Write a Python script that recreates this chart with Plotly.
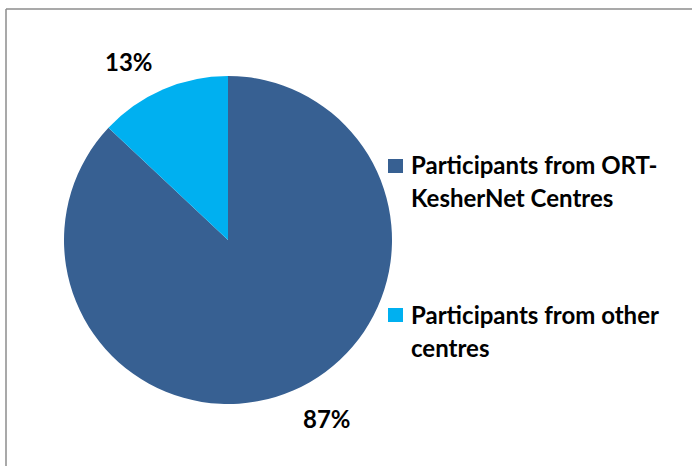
import math
import plotly.graph_objects as go

# ---- data ----
categories = ["Participants from ORT-<br>KesherNet Centres", "Participants from other<br>centres"]
shares = [87, 13]
colors = ["#376092", "#00B0F0"]

W, H = 692, 466
CX, CY, R = 228, 240, 164  # pie centre / radius in pixels (from top-left)
FONT = "Lato"

def px(x):
    return x / W

def py(y):
    return 1 - y / H

fig = go.Figure()
fig.add_trace(go.Pie(
    labels=[c.replace("<br>", " ") for c in categories],
    values=shares,
    marker=dict(colors=colors, line=dict(width=0)),
    sort=False,
    direction="clockwise",
    rotation=0,
    textinfo="none",
    showlegend=False,
    domain=dict(x=[px(CX - R), px(CX + R)], y=[py(CY + R), py(CY - R)]),
))

annotations = []
shapes = []

# percentage labels placed outside each slice ("outside end" style)
total = sum(shares)
start = 0.0
for v in shares:
    frac = v / total
    mid = (start + frac / 2) * 2 * math.pi
    start += frac
    ex = CX + R * math.sin(mid)
    ey = CY - R * math.cos(mid)
    lx = ex + math.copysign(34, math.sin(mid))
    ly = ey - math.copysign(28, math.cos(mid))
    annotations.append(dict(
        x=px(lx), y=py(ly), xref="paper", yref="paper",
        text=f"<b>{round(frac * 100)}%</b>", showarrow=False,
        xanchor="center", yanchor="middle",
        font=dict(family=FONT, size=24, color="#000000"),
    ))

# legend drawn manually
legend_y = [166, 315]
line_gap = 33
for cat, col, ly in zip(categories, colors, legend_y):
    shapes.append(dict(type="rect", xref="paper", yref="paper",
                       x0=px(388), x1=px(403), y0=py(ly - 7), y1=py(ly + 7),
                       fillcolor=col, line=dict(width=0)))
    for i, line in enumerate(cat.split("<br>")):
        annotations.append(dict(
            x=px(409), y=py(ly + i * line_gap - 1), xref="paper", yref="paper",
            text=f"<b>{line}</b>", showarrow=False,
            xanchor="left", yanchor="middle",
            font=dict(family=FONT, size=24, color="#000000"),
        ))

# chart-area border (left and top edges visible)
shapes.append(dict(type="line", xref="paper", yref="paper",
                   x0=px(6), x1=px(6), y0=py(9), y1=py(470),
                   line=dict(color="#8c8c8c", width=1.5)))
shapes.append(dict(type="line", xref="paper", yref="paper",
                   x0=px(6), x1=px(700), y0=py(9), y1=py(9),
                   line=dict(color="#8c8c8c", width=1.5)))

fig.update_layout(
    width=W, height=H,
    margin=dict(l=0, r=0, t=0, b=0),
    paper_bgcolor="white",
    plot_bgcolor="white",
    annotations=annotations,
    shapes=shapes,
)

fig.write_html("out.html", config={"displayModeBar": False},
               post_script="document.body.style.margin='0';")
